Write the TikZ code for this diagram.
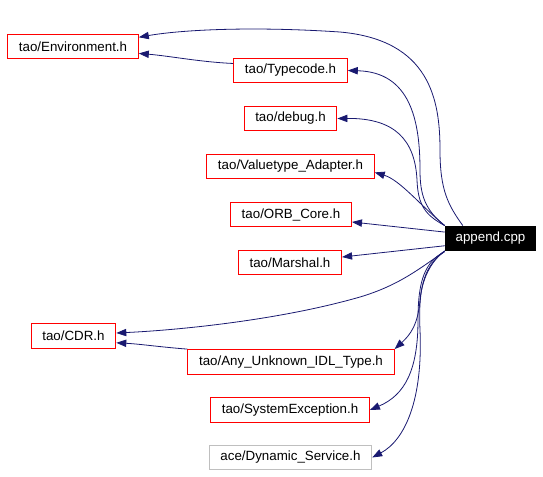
\documentclass[tikz,border=0pt]{standalone}
\usepackage{fontspec}
\setmainfont{Liberation Sans}
\usepackage{xcolor}
\usepackage{tikz}
\usetikzlibrary{arrows.meta}
\definecolor{edgeblue}{HTML}{191970}
\definecolor{boxgray}{HTML}{BFBFBF}

\begin{document}
\begin{tikzpicture}
  [
    x=0.75pt, y=-0.75pt,
    file/.style={
       draw=red,
       fill=white,
       line width=0.75pt,
       font=\fontsize{10}{12}\selectfont,
       inner xsep=8.4pt,
       inner ysep=0pt,
       minimum height=18.6pt
    },
    main/.style={
       file,
       draw=black,
       fill=black,
       text=white,
       inner xsep=7.8pt
    },
    dep/.style={
       draw=edgeblue,
       line width=0.6pt,
       -{Triangle[length=7.5pt,width=5.5pt]}
    }
  ]
  \useasboundingbox (0,0) rectangle (543,476);

  \node (app) at (490.5,238.5) [main]                 {append.cpp};
  \node (env) at ( 73.0, 46.5) [file]                 {tao/Environment.h};
  \node (tc)  at (290.5, 70.5) [file]                 {tao/Typecode.h};
  \node (dbg) at (290.5,118.5) [file]                 {tao/debug.h};
  \node (vt)  at (290.5,166.5) [file]                 {tao/Valuetype\_Adapter.h};
  \node (orb) at (291.0,214.5) [file]                 {tao/ORB\_Core.h};
  \node (msh) at (290.0,262.5) [file]                 {tao/Marshal.h};
  \node (cdr) at ( 73.5,336.0) [file]                 {tao/CDR.h};
  \node (any) at (291.0,362.0) [file]                 {tao/Any\_Unknown\_IDL\_Type.h};
  \node (se)  at (290.0,410.0) [file]                 {tao/SystemException.h};
  \node (ds)  at (290.5,457.5) [file, draw=boxgray]   {ace/Dynamic\_Service.h};

  \draw [dep] (app.155) .. controls (448,205) and (440,190) .. (440,150)
              .. controls (440,100) and (430,40) .. (340,32)
              .. controls (250,26) and (180,30) .. (env.8);
  \draw [dep] (tc.173) .. controls (200,62) and (170,56) .. (env.354);
  \draw [dep] (app.north west) .. controls (425,210) and (420,195) .. (420,170)
              .. controls (420,120) and (410,72) .. (tc.east);
  \draw [dep] (app.north west) .. controls (425,215) and (418,205) .. (417,180)
              .. controls (415,140) and (395,118) .. (dbg.east);
  \draw [dep] (app.north west) .. controls (420,205) and (400,180) .. (vt.356);
  \draw [dep] (app.172) -- (orb.353);
  \draw [dep] (app.189) -- (msh.6);

  \draw [dep] (app.south west) .. controls (420,268) and (400,285) .. (360,297)
              .. controls (280,320) and (180,330) .. (cdr.4);
  \draw [dep] (any.north west) .. controls (160,347) and (140,344) .. (cdr.351);
  \draw [dep] (app.195) .. controls (430,262) and (422,280) .. (420,300)
              .. controls (418,325) and (410,335) .. (any.north east);
  \draw [dep] (app.south west) .. controls (425,262) and (418,280) .. (418,320)
              .. controls (418,370) and (405,395) .. (se.east);
  \draw [dep] (app.south west) .. controls (425,265) and (418,285) .. (420,330)
              .. controls (423,400) and (405,440) .. (ds.east);
\end{tikzpicture}
\end{document}
